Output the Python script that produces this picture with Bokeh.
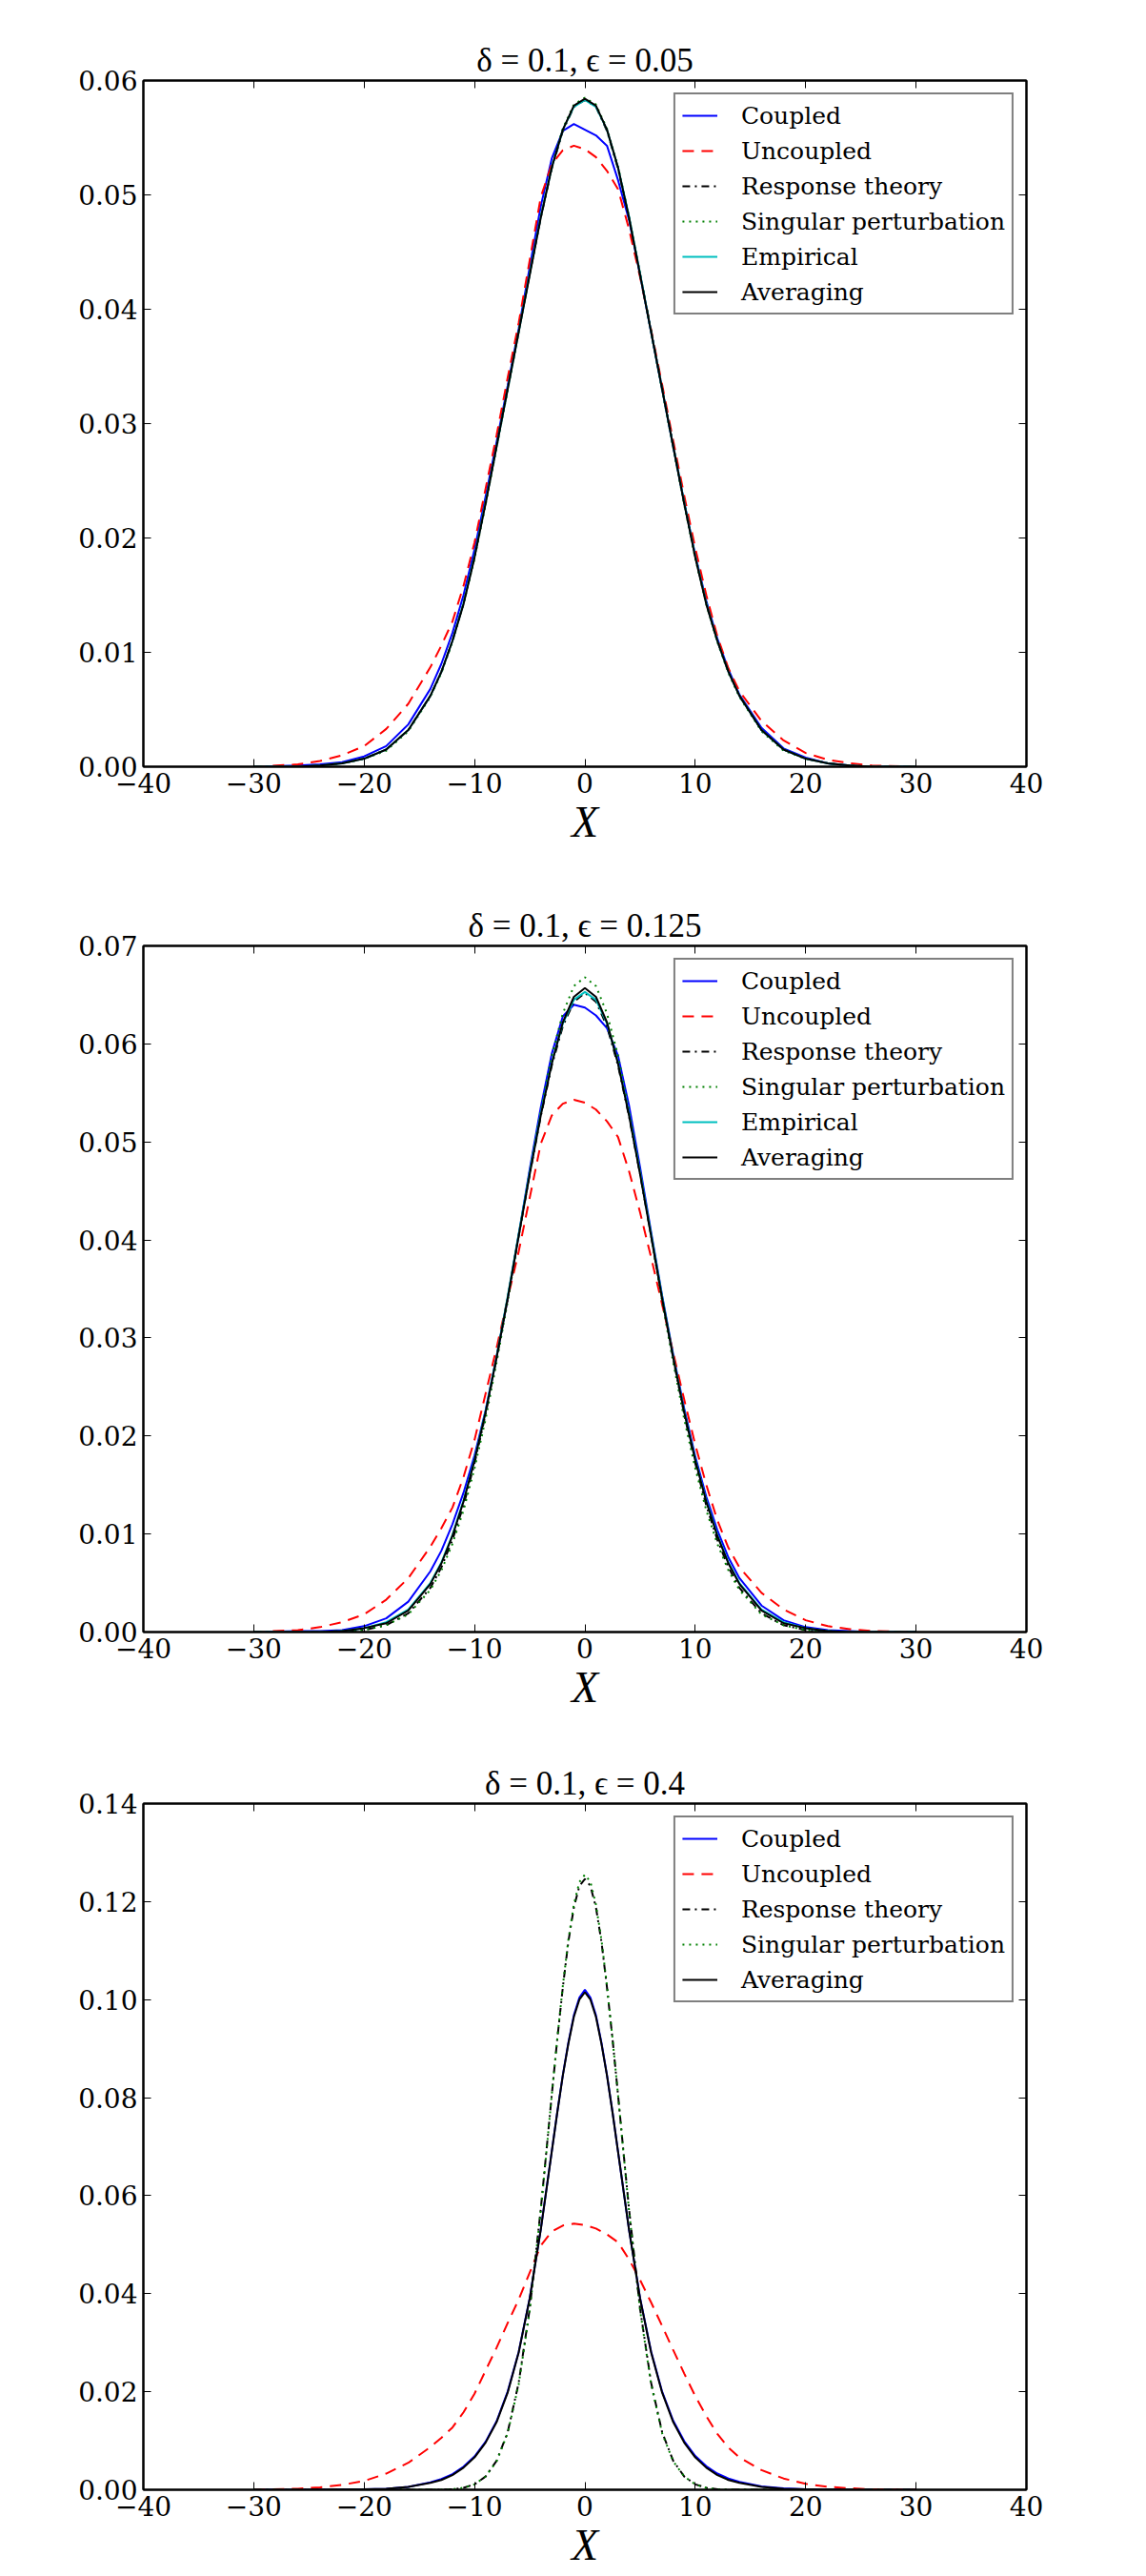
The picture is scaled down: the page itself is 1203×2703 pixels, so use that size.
from bokeh.plotting import figure
from bokeh.layouts import column
from bokeh.models import Range1d, FixedTicker, LinearAxis, Legend, LegendItem
from bokeh.embed import file_html
from bokeh.resources import INLINE

# ---------------- data ----------------
x_ticks = [-40, -30, -20, -10, 0, 10, 20, 30, 40]
x_tick_labels = ["\u221240", "\u221230", "\u221220", "\u221210", "0", "10", "20", "30", "40"]

y1_ticks = [0.0, 0.01, 0.02, 0.03, 0.04, 0.05, 0.06]
y1_tick_labels = ["0.00", "0.01", "0.02", "0.03", "0.04", "0.05", "0.06"]
y2_ticks = [0.0, 0.01, 0.02, 0.03, 0.04, 0.05, 0.06, 0.07]
y2_tick_labels = ["0.00", "0.01", "0.02", "0.03", "0.04", "0.05", "0.06", "0.07"]
y3_ticks = [0.0, 0.02, 0.04, 0.06, 0.08, 0.10, 0.12, 0.14]
y3_tick_labels = ["0.00", "0.02", "0.04", "0.06", "0.08", "0.10", "0.12", "0.14"]

titles = ["\u03b4 = 0.1, \u03f5 = 0.05", "\u03b4 = 0.1, \u03f5 = 0.125", "\u03b4 = 0.1, \u03f5 = 0.4"]

# x grid for panels 1 and 2 (and the uncoupled curve)
xa = [-30, -26, -24, -22, -20, -18, -16, -14, -13, -12, -11, -10, -9, -8, -7, -6, -5, -4, -3, -2, -1,
      0, 1, 2, 3, 4, 5, 6, 7, 8, 9, 10, 11, 12, 13, 14, 16, 18, 20, 22, 24, 26, 30]

uncoupled = [0.0000, 0.0002, 0.0005, 0.0010, 0.0018, 0.0033, 0.0055, 0.0087,
             0.0106, 0.0127, 0.0158, 0.0196, 0.0243, 0.0290, 0.0340, 0.0388, 0.0443, 0.0498, 0.0527, 0.0539, 0.0543,
             0.0540, 0.0533, 0.0521, 0.0505, 0.0470, 0.0428, 0.0382, 0.0334, 0.0285, 0.0237, 0.0191, 0.0150, 0.0114, 0.0086,
             0.0066, 0.0040, 0.0023, 0.0012, 0.0006, 0.0003, 0.0001, 0.0000]

# panel 1: epsilon = 0.05
coupled_1 = [0.0000, 0.0001, 0.0002, 0.0004, 0.0009, 0.0018, 0.0037, 0.0068,
             0.0090, 0.0117, 0.0150, 0.0190, 0.0236, 0.0284, 0.0333, 0.0383, 0.0437, 0.0490, 0.0532, 0.0556, 0.0562,
             0.0557, 0.0552, 0.0543, 0.0513, 0.0478, 0.0430, 0.0380, 0.0330, 0.0280, 0.0231, 0.0185, 0.0145, 0.0112, 0.0085,
             0.0063, 0.0034, 0.0016, 0.0008, 0.0003, 0.0001, 0.0000, 0.0000]
response_1 = [0.0000, 0.0000, 0.0001, 0.0003, 0.0007, 0.0015, 0.0032, 0.0062,
              0.0083, 0.0110, 0.0143, 0.0184, 0.0231, 0.0281, 0.0331, 0.0381, 0.0431, 0.0480, 0.0523, 0.0556, 0.0577,
              0.0583, 0.0577, 0.0556, 0.0523, 0.0480, 0.0431, 0.0381, 0.0331, 0.0281, 0.0231, 0.0184, 0.0143, 0.0110, 0.0083,
              0.0062, 0.0032, 0.0015, 0.0007, 0.0003, 0.0001, 0.0000, 0.0000]
singular_1 = [0.0000, 0.0000, 0.0001, 0.0003, 0.0007, 0.0014, 0.0031, 0.0061,
              0.0082, 0.0109, 0.0142, 0.0182, 0.0229, 0.0279, 0.0329, 0.0380, 0.0431, 0.0481, 0.0525, 0.0558, 0.0579,
              0.0585, 0.0579, 0.0558, 0.0525, 0.0481, 0.0431, 0.0380, 0.0329, 0.0279, 0.0229, 0.0182, 0.0142, 0.0109, 0.0082,
              0.0061, 0.0031, 0.0014, 0.0007, 0.0003, 0.0001, 0.0000, 0.0000]
empirical_1 = [0.0000, 0.0000, 0.0001, 0.0003, 0.0007, 0.0015, 0.0032, 0.0062,
               0.0083, 0.0110, 0.0143, 0.0184, 0.0231, 0.0280, 0.0330, 0.0380, 0.0431, 0.0481, 0.0524, 0.0557, 0.0577,
               0.0583, 0.0577, 0.0557, 0.0524, 0.0481, 0.0431, 0.0380, 0.0330, 0.0280, 0.0231, 0.0184, 0.0143, 0.0110, 0.0083,
               0.0062, 0.0032, 0.0015, 0.0007, 0.0003, 0.0001, 0.0000, 0.0000]
averaging_1 = [0.0000, 0.0000, 0.0001, 0.0003, 0.0007, 0.0015, 0.0032, 0.0062,
               0.0083, 0.0110, 0.0142, 0.0183, 0.0230, 0.0280, 0.0330, 0.0380, 0.0430, 0.0480, 0.0524, 0.0557, 0.0578,
               0.0584, 0.0578, 0.0557, 0.0524, 0.0480, 0.0430, 0.0380, 0.0330, 0.0280, 0.0230, 0.0183, 0.0142, 0.0110, 0.0083,
               0.0062, 0.0032, 0.0015, 0.0007, 0.0003, 0.0001, 0.0000, 0.0000]

# panel 2: epsilon = 0.125
coupled_2 = [0.0000, 0.0001, 0.0001, 0.0002, 0.0006, 0.0014, 0.0031, 0.0062,
             0.0083, 0.0110, 0.0142, 0.0180, 0.0226, 0.0281, 0.0340, 0.0405, 0.0472, 0.0535, 0.0590, 0.0628, 0.0640,
             0.0637, 0.0629, 0.0616, 0.0588, 0.0537, 0.0474, 0.0408, 0.0343, 0.0283, 0.0228, 0.0179, 0.0138, 0.0104, 0.0076,
             0.0055, 0.0027, 0.0012, 0.0005, 0.0002, 0.0001, 0.0000, 0.0000]
response_2 = [0.0000, 0.0000, 0.0000, 0.0001, 0.0002, 0.0007, 0.0019, 0.0045,
              0.0066, 0.0094, 0.0129, 0.0172, 0.0222, 0.0279, 0.0340, 0.0404, 0.0467, 0.0526, 0.0578, 0.0618, 0.0643,
              0.0652, 0.0643, 0.0618, 0.0578, 0.0526, 0.0467, 0.0404, 0.0340, 0.0279, 0.0222, 0.0172, 0.0129, 0.0094, 0.0066,
              0.0045, 0.0019, 0.0007, 0.0002, 0.0001, 0.0000, 0.0000, 0.0000]
singular_2 = [0.0000, 0.0000, 0.0000, 0.0001, 0.0002, 0.0007, 0.0018, 0.0043,
              0.0063, 0.0090, 0.0124, 0.0167, 0.0217, 0.0275, 0.0337, 0.0404, 0.0470, 0.0532, 0.0588, 0.0631, 0.0659,
              0.0668, 0.0659, 0.0631, 0.0588, 0.0532, 0.0470, 0.0404, 0.0337, 0.0275, 0.0217, 0.0167, 0.0124, 0.0090, 0.0063,
              0.0043, 0.0018, 0.0007, 0.0002, 0.0001, 0.0000, 0.0000, 0.0000]
empirical_2 = [0.0000, 0.0000, 0.0000, 0.0001, 0.0004, 0.0010, 0.0023, 0.0050,
               0.0071, 0.0099, 0.0134, 0.0176, 0.0225, 0.0281, 0.0342, 0.0406, 0.0469, 0.0529, 0.0581, 0.0621, 0.0645,
               0.0653, 0.0645, 0.0621, 0.0581, 0.0529, 0.0469, 0.0406, 0.0342, 0.0281, 0.0225, 0.0176, 0.0134, 0.0099, 0.0071,
               0.0050, 0.0023, 0.0010, 0.0004, 0.0001, 0.0000, 0.0000, 0.0000]
averaging_2 = [0.0000, 0.0000, 0.0000, 0.0001, 0.0004, 0.0009, 0.0022, 0.0049,
               0.0070, 0.0098, 0.0133, 0.0175, 0.0224, 0.0280, 0.0340, 0.0404, 0.0467, 0.0527, 0.0580, 0.0622, 0.0648,
               0.0657, 0.0648, 0.0622, 0.0580, 0.0527, 0.0467, 0.0404, 0.0340, 0.0280, 0.0224, 0.0175, 0.0133, 0.0098, 0.0070,
               0.0049, 0.0022, 0.0009, 0.0004, 0.0001, 0.0000, 0.0000, 0.0000]

# panel 3: epsilon = 0.4 (finer grid near the centre)
xb = [-30, -24, -20, -18, -16, -14, -13, -12, -11, -10, -9, -8, -7, -6, -5, -4,
      -3.5, -3, -2.5, -2, -1.5, -1, -0.5, 0, 0.5, 1, 1.5, 2, 2.5, 3, 3.5,
      4, 5, 6, 7, 8, 9, 10, 11, 12, 13, 14, 16, 18, 20, 24, 30]

coupled_3 = [0.0000, 0.0000, 0.0001, 0.0002, 0.0006, 0.0015,
             0.0022, 0.0032, 0.0047, 0.0068, 0.0098, 0.0140, 0.0200, 0.0281, 0.0391, 0.0531,
             0.0611, 0.0691, 0.0771, 0.0846, 0.0912, 0.0968, 0.1004, 0.1020, 0.1004, 0.0968, 0.0912, 0.0846, 0.0771, 0.0690, 0.0610,
             0.0530, 0.0391, 0.0282, 0.0200, 0.0141, 0.0099, 0.0069, 0.0048, 0.0033, 0.0023,
             0.0016, 0.0007, 0.0003, 0.0001, 0.0000, 0.0000]
response_3 = [0.0000, 0.0000, 0.0000, 0.0000, 0.0000, 0.0000,
              0.0000, 0.0001, 0.0004, 0.0011, 0.0027, 0.0059, 0.0117, 0.0218, 0.0369, 0.0572,
              0.0688, 0.0806, 0.0920, 0.1025, 0.1118, 0.1188, 0.1232, 0.1246, 0.1232, 0.1188, 0.1118, 0.1025, 0.0920, 0.0806, 0.0688,
              0.0572, 0.0369, 0.0218, 0.0117, 0.0059, 0.0027, 0.0011, 0.0004, 0.0001, 0.0000,
              0.0000, 0.0000, 0.0000, 0.0000, 0.0000, 0.0000]
singular_3 = [0.0000, 0.0000, 0.0000, 0.0000, 0.0000, 0.0000,
              0.0000, 0.0001, 0.0004, 0.0011, 0.0027, 0.0058, 0.0115, 0.0215, 0.0366, 0.0569,
              0.0686, 0.0806, 0.0921, 0.1028, 0.1122, 0.1194, 0.1240, 0.1255, 0.1240, 0.1194, 0.1122, 0.1028, 0.0921, 0.0806, 0.0686,
              0.0569, 0.0366, 0.0215, 0.0115, 0.0058, 0.0027, 0.0011, 0.0004, 0.0001, 0.0000,
              0.0000, 0.0000, 0.0000, 0.0000, 0.0000, 0.0000]
averaging_3 = [0.0000, 0.0000, 0.0001, 0.0002, 0.0006, 0.0014,
               0.0020, 0.0030, 0.0045, 0.0066, 0.0096, 0.0138, 0.0198, 0.0280, 0.0390, 0.0530,
               0.0610, 0.0690, 0.0770, 0.0845, 0.0910, 0.0965, 0.1000, 0.1015, 0.1000, 0.0965, 0.0910, 0.0845, 0.0770, 0.0690, 0.0610,
               0.0530, 0.0390, 0.0280, 0.0198, 0.0138, 0.0096, 0.0066, 0.0045, 0.0030, 0.0020,
               0.0014, 0.0006, 0.0002, 0.0001, 0.0000, 0.0000]

# ---------------- styling ----------------
STYLES = {
    "Coupled": ("#0000ff", "solid"),
    "Uncoupled": ("#ff0000", "12 8"),
    "Response theory": ("#000000", "8 5 2 5"),
    "Singular perturbation": ("#008000", "2 5"),
    "Empirical": ("#00bfbf", "solid"),
    "Averaging": ("#000000", "solid"),
}
SERIF = "DejaVu Serif"
MATH = "Liberation Serif"


def style_axis(ax):
    ax.axis_line_color = "black"
    ax.axis_line_width = 2
    ax.major_tick_in = 8
    ax.major_tick_out = 0
    ax.major_tick_line_width = 1
    ax.major_tick_line_color = "black"
    ax.minor_tick_line_color = None


def make_panel(title, y_max, y_ticks, y_labels, series, height, left, right, top, bottom):
    p = figure(width=1203, height=height, x_range=Range1d(-40, 40), y_range=Range1d(0, y_max),
               output_backend="svg", toolbar_location=None,
               min_border_left=left, min_border_right=right,
               min_border_top=top, min_border_bottom=bottom)
    p.grid.visible = False
    p.outline_line_color = "black"
    p.outline_line_width = 2
    p.background_fill_color = "white"
    p.border_fill_color = "white"

    p.title.text = title
    p.title.align = "center"
    p.title.text_font = MATH
    p.title.text_font_size = "35px"
    p.title.text_font_style = "normal"
    p.title.text_color = "black"
    p.title.standoff = 4

    bottom_ax = p.xaxis[0]
    left_ax = p.yaxis[0]

    bottom_ax.ticker = FixedTicker(ticks=x_ticks)
    bottom_ax.major_label_overrides = dict(zip(x_ticks, x_tick_labels))
    bottom_ax.axis_label = "X"
    bottom_ax.axis_label_text_font = MATH
    bottom_ax.axis_label_text_font_style = "italic"
    bottom_ax.axis_label_text_font_size = "46px"
    bottom_ax.axis_label_text_color = "black"
    bottom_ax.axis_label_standoff = 2

    left_ax.ticker = FixedTicker(ticks=y_ticks)
    left_ax.major_label_overrides = dict(zip(y_ticks, y_labels))

    for ax in (bottom_ax, left_ax):
        style_axis(ax)
        ax.major_label_text_font = SERIF
        ax.major_label_text_font_size = "28px"
        ax.major_label_text_color = "black"
        ax.major_label_standoff = 6

    # mirrored tick marks on the top and right edges (no labels)
    top_ax = LinearAxis(ticker=FixedTicker(ticks=x_ticks))
    right_ax = LinearAxis(ticker=FixedTicker(ticks=y_ticks))
    for ax in (top_ax, right_ax):
        style_axis(ax)
        ax.major_label_text_color = None
        ax.major_label_text_font_size = "1px"
        ax.major_label_standoff = 0
    p.add_layout(top_ax, "above")
    p.add_layout(right_ax, "right")

    items = []
    for name, xs, ys in series:
        color, dash = STYLES[name]
        r = p.line(xs, ys, line_color=color, line_width=2, line_dash=dash)
        items.append(LegendItem(label=name, renderers=[r]))

    legend = Legend(items=items, location="top_right")
    legend.margin = 13
    legend.padding = 7
    legend.spacing = 7
    legend.glyph_width = 37
    legend.glyph_height = 30
    legend.label_height = 30
    legend.label_standoff = 25
    legend.label_text_font = SERIF
    legend.label_text_font_size = "25px"
    legend.label_text_color = "black"
    legend.border_line_color = "black"
    legend.border_line_width = 2
    legend.background_fill_color = "white"
    legend.background_fill_alpha = 1.0
    p.add_layout(legend)
    return p


p1 = make_panel(titles[0], 0.06, y1_ticks, y1_tick_labels, [
    ("Coupled", xa, coupled_1),
    ("Uncoupled", xa, uncoupled),
    ("Response theory", xa, response_1),
    ("Singular perturbation", xa, singular_1),
    ("Empirical", xa, empirical_1),
    ("Averaging", xa, averaging_1),
], height=908, left=150, right=122, top=84, bottom=104)

p2 = make_panel(titles[1], 0.07, y2_ticks, y2_tick_labels, [
    ("Coupled", xa, coupled_2),
    ("Uncoupled", xa, uncoupled),
    ("Response theory", xa, response_2),
    ("Singular perturbation", xa, singular_2),
    ("Empirical", xa, empirical_2),
    ("Averaging", xa, averaging_2),
], height=900, left=150, right=122, top=84, bottom=96)

p3 = make_panel(titles[2], 0.14, y3_ticks, y3_tick_labels, [
    ("Coupled", xb, coupled_3),
    ("Uncoupled", xa, uncoupled),
    ("Response theory", xb, response_3),
    ("Singular perturbation", xb, singular_3),
    ("Averaging", xb, averaging_3),
], height=895, left=146, right=126, top=84, bottom=91)

layout = column(p1, p2, p3, spacing=0)
open("out.html", "w").write(file_html(layout, INLINE))
